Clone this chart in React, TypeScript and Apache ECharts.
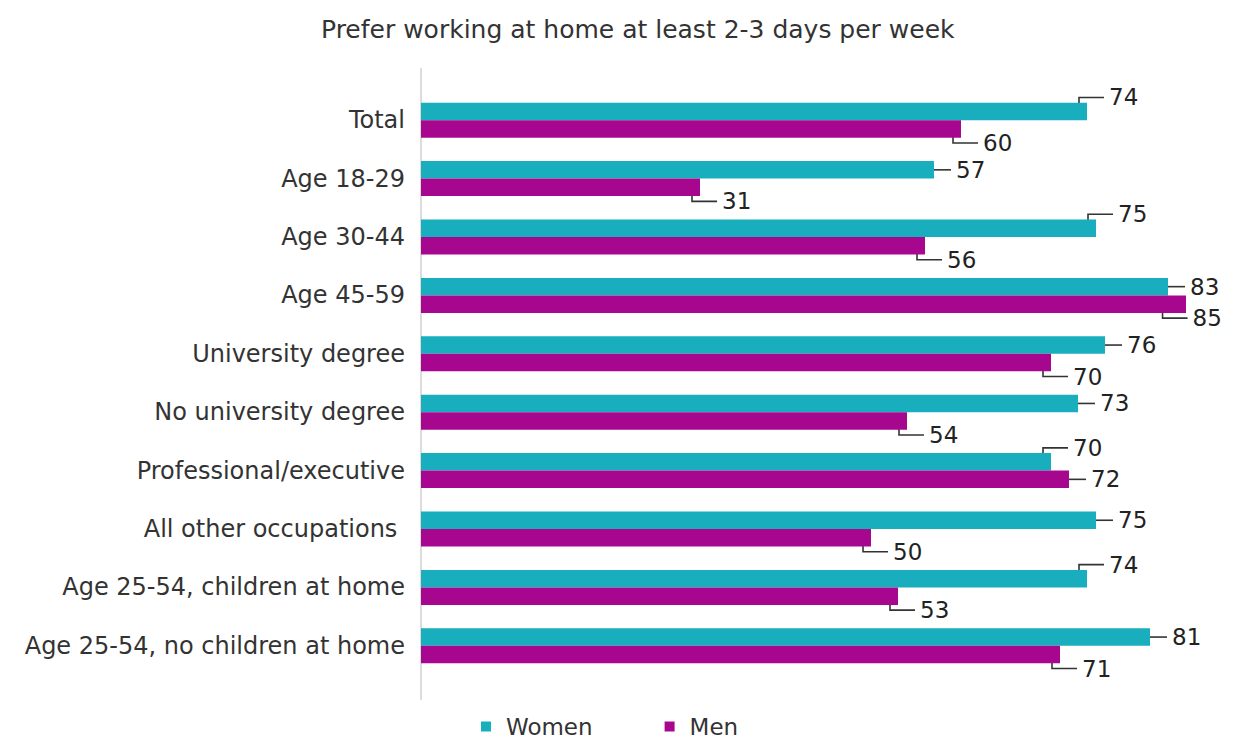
import React, { useEffect, useRef } from "react";
import * as echarts from "echarts";

const categories = [
  "Total",
  "Age 18-29",
  "Age 30-44",
  "Age 45-59",
  "University degree",
  "No university degree",
  "Professional/executive",
  "All other occupations ",
  "Age 25-54, children at home",
  "Age 25-54, no children at home",
];
const women = [74, 57, 75, 83, 76, 73, 70, 75, 74, 81];
const men = [60, 31, 56, 85, 70, 54, 72, 50, 53, 71];

// label callout placement: -1 above, 0 level, 1 below
const womenPlace = [-1, 0, -1, 0, 0, 0, -1, 0, -1, 0];
const menPlace = [1, 1, 1, 1, 1, 1, 0, 1, 1, 1];

const TEAL = "#19aebe";
const MAGENTA = "#a7078f";
const TEXT = "#333333";
const FONT = "'DejaVu Sans', sans-serif";
const BAR_W = 17.5;
const LABEL_FS = 23;

export default function App() {
  const ref = useRef<HTMLDivElement>(null);
  useEffect(() => {
    if (!ref.current) return;
    const chart = echarts.init(ref.current, undefined, { renderer: "svg" });
    const labelData: number[][] = [];
    categories.forEach((_, i) => {
      labelData.push([women[i], i, womenPlace[i], 0]);
      labelData.push([men[i], i, menPlace[i], 1]);
    });
    chart.setOption({
      animation: false,
      textStyle: { fontFamily: FONT },
      title: {
        text: "Prefer working at home at least 2-3 days per week",
        left: 316,
        top: 12,
        textStyle: { fontSize: 25, fontWeight: "normal", color: TEXT, fontFamily: FONT },
      },
      legend: {
        data: ["Women", "Men"],
        left: 476,
        top: 710,
        icon: "rect",
        itemWidth: 10,
        itemHeight: 10,
        itemGap: 72,
        textStyle: {
          fontSize: 23,
          lineHeight: 22,
          color: TEXT,
          fontFamily: FONT,
          padding: [0, 0, 0, 10],
        },
      },
      grid: { left: 421, width: 810, top: 91, height: 584, containLabel: false },
      xAxis: {
        type: "value",
        min: 0,
        max: 90,
        show: false,
      },
      yAxis: {
        type: "category",
        data: categories,
        inverse: true,
        axisLine: { show: false },
        axisTick: { show: false },
        axisLabel: { fontSize: 24, color: TEXT, margin: 16, fontFamily: FONT },
      },
      graphic: [
        {
          type: "line",
          shape: { x1: 421, y1: 68, x2: 421, y2: 700 },
          style: { stroke: "#d0d0d0", lineWidth: 1.5 },
        },
      ],
      series: [
        {
          name: "Women",
          type: "bar",
          data: women,
          barWidth: BAR_W,
          barGap: "0%",
          itemStyle: { color: TEAL },
        },
        {
          name: "Men",
          type: "bar",
          data: men,
          barWidth: BAR_W,
          barGap: "0%",
          itemStyle: { color: MAGENTA },
        },
        {
          type: "custom",
          name: "labels",
          encode: { x: 0, y: 1 },
          clip: false,
          silent: true,
          data: labelData,
          renderItem: (params: any, api: any) => {
            const v = api.value(0);
            const c = api.value(1);
            const place = api.value(2);
            const s = api.value(3);
            const p = api.coord([v, c]);
            const cy = p[1] + (s === 0 ? -BAR_W / 2 : BAR_W / 2);
            const txt = String(v);
            const tw = txt.length * LABEL_FS * 0.64;
            const limit = api.getWidth() - 11;
            let x0 = p[0] - 8;
            let x1 = p[0] + 17;
            const over = x1 + 5 + tw - limit;
            if (over > 0) {
              x0 -= over;
              x1 -= over;
            }
            const ly = cy + place * 14;
            const pts =
              place === 0
                ? [
                    [x0, ly],
                    [x1, ly],
                  ]
                : [
                    [x0, cy + place * 4],
                    [x0, ly],
                    [x1, ly],
                  ];
            return {
              type: "group",
              children: [
                {
                  type: "polyline",
                  shape: { points: pts },
                  style: { stroke: "#333", lineWidth: 1.6, fill: "none" },
                },
                {
                  type: "text",
                  style: {
                    text: txt,
                    x: x1 + 5,
                    y: ly,
                    verticalAlign: "middle",
                    align: "left",
                    fontSize: LABEL_FS,
                    fontFamily: FONT,
                    fill: "#222",
                  },
                },
              ],
            };
          },
        },
      ],
    });
    return () => chart.dispose();
  }, []);
  return (
    <div
      ref={ref}
      style={{ position: "fixed", left: 0, top: 0, width: 1233, height: 740, background: "#fff" }}
    />
  );
}
